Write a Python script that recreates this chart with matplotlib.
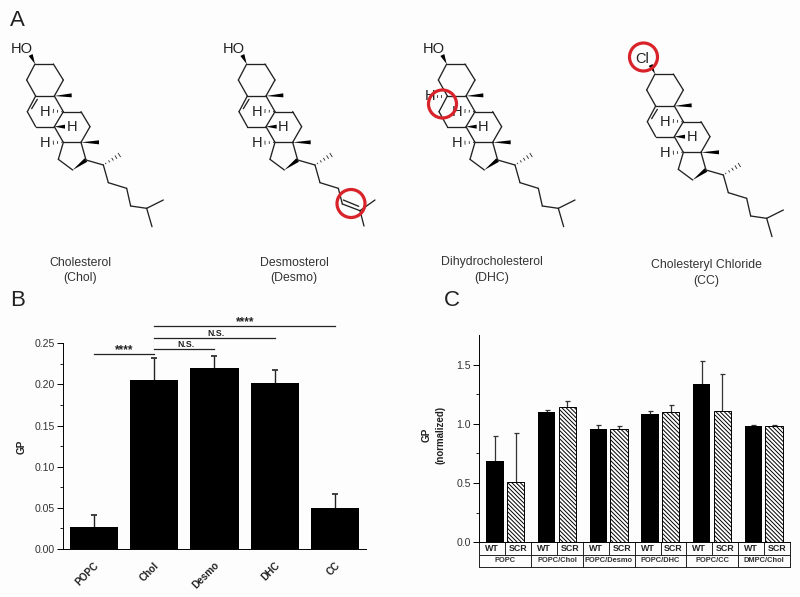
import numpy as np
import matplotlib
matplotlib.use("Agg")
import matplotlib.pyplot as plt
from matplotlib.patches import Polygon, Circle
from matplotlib.transforms import ScaledTranslation

plt.rcParams['font.family'] = ['Liberation Sans', 'DejaVu Sans']
plt.rcParams['hatch.linewidth'] = 0.7

# ---------- data ----------
b_categories = ['POPC', 'Chol', 'Desmo', 'DHC', 'CC']
b_values = [0.027, 0.205, 0.220, 0.202, 0.050]
b_err_up = [0.014, 0.027, 0.014, 0.015, 0.017]
b_ticks = [0.00, 0.05, 0.10, 0.15, 0.20, 0.25]
b_brackets = [(0, 1, 0.2374, '****'), (1, 2, 0.2427, 'N.S.'),
              (1, 3, 0.2560, 'N.S.'), (1, 4, 0.2715, '****')]

c_groups = ['POPC', 'POPC/Chol', 'POPC/Desmo', 'POPC/DHC', 'POPC/CC', 'DMPC/Chol']
c_wt = [0.69, 1.10, 0.96, 1.08, 1.34, 0.985]
c_wt_err = [0.205, 0.02, 0.03, 0.025, 0.19, 0.005]
c_scr = [0.51, 1.14, 0.955, 1.10, 1.11, 0.98]
c_scr_err = [0.415, 0.055, 0.025, 0.055, 0.31, 0.01]
c_ticks = [0.0, 0.5, 1.0, 1.5]

captions = [('Cholesterol\n(Chol)', 80, 270.5), ('Desmosterol\n(Desmo)', 294, 270.5),
            ('Dihydrocholesterol\n(DHC)', 492, 270), ('Cholesteryl Chloride\n(CC)', 706, 273)]

# ---------- figure ----------
W, H = 800, 597
fig = plt.figure(figsize=(W / 100, H / 100), dpi=100, facecolor='#fdfdfd')
ink = '#222222'

def axes_px(l, t, r, b):
    return fig.add_axes([l / W, 1 - b / H, (r - l) / W, (b - t) / H])

# ---------- overlay with the structures ----------
ov = fig.add_axes([0, 0, 1, 1], zorder=0)
ov.set_xlim(0, W)
ov.set_ylim(H, 0)
ov.axis('off')

A = dict(c3=(105, 192), c2=(160, 192), c1=(190, 240), c10=(163, 288), c5=(107, 288), c4=(80, 240),
         c6=(82, 335), c7=(107, 380), c8=(163, 380), c9=(190, 335), c11=(243, 335), c12=(270, 380),
         c13=(243, 427), c14=(190, 427), c15=(175, 478), c16=(218, 510), c17=(258, 480),
         c20=(310, 495), c22=(325, 548), c23=(380, 565), c24=(392, 618), c25=(440, 625))
BONDS = ['c3 c2', 'c2 c1', 'c1 c10', 'c10 c5', 'c5 c4', 'c4 c3', 'c5 c6', 'c6 c7', 'c7 c8', 'c8 c9',
         'c9 c10', 'c9 c11', 'c11 c12', 'c12 c13', 'c13 c14', 'c14 c8', 'c14 c15', 'c15 c16', 'c17 c13',
         'c17 c20', 'c20 c22']

def molecule(ox, oy, kind):
    def P(p):
        return ((p[0] + ox) / 3, (p[1] + oy) / 3)
    def line(a, b, lw=0.95):
        a, b = P(a), P(b)
        ov.plot([a[0], b[0]], [a[1], b[1]], color=ink, lw=lw, solid_capstyle='round')
    def wedge(a, b, w=2.0):
        a, b = np.array(P(a)), np.array(P(b))
        d = b - a
        n = np.array([-d[1], d[0]]) / np.hypot(*d) * w
        ov.add_patch(Polygon([a, b + n, b - n], closed=True, color='black', lw=0))
    def hashed(a, b, w=2.0, k=5):
        a, b = np.array(P(a)), np.array(P(b))
        d = b - a
        n = np.array([-d[1], d[0]]) / np.hypot(*d) * w
        for t in np.linspace(0.15, 1, k):
            c = a + d * t
            ov.plot([c[0] - n[0] * t, c[0] + n[0] * t], [c[1] - n[1] * t, c[1] + n[1] * t],
                    color=ink, lw=0.6)
    def label(p, s, fs=10.5):
        x, y = P(p)
        ov.text(x, y, s, fontsize=fs, ha='center', va='center', color=ink)
    for bond in BONDS:
        a, b = bond.split()
        line(A[a], A[b])
    wedge(A['c16'], A['c17'], 2.2)
    wedge(A['c10'], (215, 286))
    wedge(A['c13'], (297, 427))
    wedge(A['c8'], (195, 380))
    hashed(A['c20'], (358, 465))
    hashed(A['c9'], (160, 333), 1.6, 3)
    hashed(A['c14'], (160, 428), 1.6, 3)
    label((135, 335), 'H')
    label((215, 380), 'H')
    label((135, 428), 'H')
    if kind != 'dhc':
        line((95, 326), (112, 298))
    else:
        hashed(A['c5'], (75, 288), 1.4, 3)
        label((55, 288), 'H')
    wedge(A['c3'], (92, 165), 2.2)
    if kind == 'cc':
        label((68, 147), 'Cl')
    else:
        label((65, 148), 'HO')
    if kind == 'des':
        for a, b in [((325, 548), (380, 565)), ((380, 565), (392, 612)), ((392, 612), (445, 632)),
                     ((445, 632), (490, 600)), ((445, 632), (457, 678))]:
            line(a, b)
        line((395, 600), (441, 619))
    else:
        for a, b in [(A['c22'], A['c23']), (A['c23'], A['c24']), (A['c24'], A['c25']),
                     (A['c25'], (490, 600)), (A['c25'], (456, 680))]:
            line(a, b)

molecule(0, 0, 'chol')
molecule(635, 0, 'des')
molecule(1235, 0, 'dhc')
molecule(1860, 30, 'cc')

for cx, cy in [(351, 203.5), (442.5, 104), (643.5, 57)]:
    ov.add_patch(Circle((cx, cy), 14, fill=False, ec='#d8232a', lw=2.3, zorder=5))

for s, x, y in captions:
    ov.text(x, y, s, ha='center', va='center', fontsize=8.8, color='#333333', linespacing=1.35)
for s, x, y in [('A', 17.5, 20), ('B', 17.5, 300), ('C', 452, 300)]:
    ov.text(x, y, s, ha='center', va='center', fontsize=16, color='#222222')

def upper_errors(axis, x, y, err, **kw):
    _, caps, _ = axis.errorbar(x, y, yerr=[np.zeros(len(x)), err], fmt='none', zorder=1, **kw)
    caps[0].set_visible(False)

# ---------- panel B ----------
ax = axes_px(63.3, 343.3, 365.7, 549)
ax.patch.set_alpha(0)
xb = np.arange(len(b_categories))
ax.bar(xb, b_values, width=0.8, color='black', zorder=2)
upper_errors(ax, xb, b_values, b_err_up, ecolor='#222222', elinewidth=1.0, capsize=2, capthick=1.2)
ax.set_xlim(-0.503, 4.503)
ax.set_ylim(0, 0.25)
ax.set_yticks(b_ticks)
ax.set_yticklabels([f'{v:.2f}' for v in b_ticks])
ax.set_yticks(np.arange(0.025, 0.25, 0.05), minor=True)
ax.set_xticks(xb)
ax.set_xticklabels(b_categories, rotation=45, ha='right', rotation_mode='anchor',
                   fontsize=7.2, fontweight='bold', color='#222222')
off = ScaledTranslation(6 / 72, 0, fig.dpi_scale_trans)
for t in ax.get_xticklabels():
    t.set_transform(t.get_transform() + off)
ax.tick_params(axis='x', length=0, pad=8)
ax.tick_params(axis='y', which='major', length=4, width=0.7, labelsize=7.6, labelcolor='#333333', pad=2)
ax.tick_params(axis='y', which='minor', length=2, width=0.6)
for s in ['top', 'right']:
    ax.spines[s].set_visible(False)
for s in ['left', 'bottom']:
    ax.spines[s].set_linewidth(0.7)
ov.text(22, 447, 'GP', rotation=90, ha='center', va='center', fontsize=7.2, fontweight='bold', color='#222222')
for x0, x1, y, s in b_brackets:
    ax.plot([x0, x1], [y, y], color='#222222', lw=0.9, clip_on=False)
    stars = s == '****'
    ax.text((x0 + x1) / 2 + (0 if stars else 0.02), y + (-0.0035 if stars else 0.0005), s,
            ha='center', va='bottom', fontsize=8.5 if stars else 6.3, fontweight='bold',
            color='#222222', clip_on=False)

# ---------- panel C ----------
ac = axes_px(479.3, 335, 790, 542.3)
ac.patch.set_alpha(0)
x_wt = np.arange(len(c_groups)) * 2.5
x_scr = x_wt + 1
ac.bar(x_wt, c_wt, width=0.84, color='black', zorder=2)
ac.bar(x_scr, c_scr, width=0.84, facecolor='white', edgecolor='black', hatch='\\' * 8, lw=0.7, zorder=2)
upper_errors(ac, x_wt, c_wt, c_wt_err, ecolor='#333333', elinewidth=0.9, capsize=1.8, capthick=0.9)
upper_errors(ac, x_scr, c_scr, c_scr_err, ecolor='#333333', elinewidth=0.9, capsize=1.8, capthick=0.9)
ac.set_xlim(-0.758, 14.27)
ac.set_ylim(0, 1.75)
ac.set_yticks(c_ticks)
ac.set_yticklabels([f'{v:.1f}' for v in c_ticks])
ac.set_yticks(np.arange(0.25, 1.75, 0.5), minor=True)
ac.set_xticks([])
ac.tick_params(axis='y', which='major', length=4, width=0.7, labelsize=7.6, labelcolor='#333333', pad=2)
ac.tick_params(axis='y', which='minor', length=2, width=0.6)
for s in ['top', 'right']:
    ac.spines[s].set_visible(False)
for s in ['left', 'bottom']:
    ac.spines[s].set_linewidth(0.7)

r1, r2 = -12.7 / 207.3, -24.4 / 207.3
tr = ac.transAxes
def tl(xs, ys):
    ac.plot(xs, ys, transform=tr, color='#222222', lw=0.7, clip_on=False)
for y in (r1, r2):
    tl([0, 1], [y, y])
for i in range(13):
    tl([i / 12, i / 12], [0, r1])
for i in range(7):
    tl([i / 6, i / 6], [r1, r2])
for i in range(12):
    ac.text((i + 0.5) / 12, r1 / 2 - 0.001, 'SCR' if i % 2 else 'WT', transform=tr, ha='center', va='center',
            fontsize=6.4, fontweight='bold', color='#222222')
for i, g in enumerate(c_groups):
    ac.text((i + 0.5) / 6, (r1 + r2) / 2, g, transform=tr, ha='center', va='center',
            fontsize=5.4, fontweight='bold', color='#333333')
ov.text(427, 435, 'GP', rotation=90, ha='center', va='center', fontsize=7.2, fontweight='bold', color='#222222')
ov.text(441, 435, '(normalized)', rotation=90, ha='center', va='center', fontsize=7.0, fontweight='bold', color='#222222')

fig.savefig('out.png', dpi=100, facecolor=fig.get_facecolor())
